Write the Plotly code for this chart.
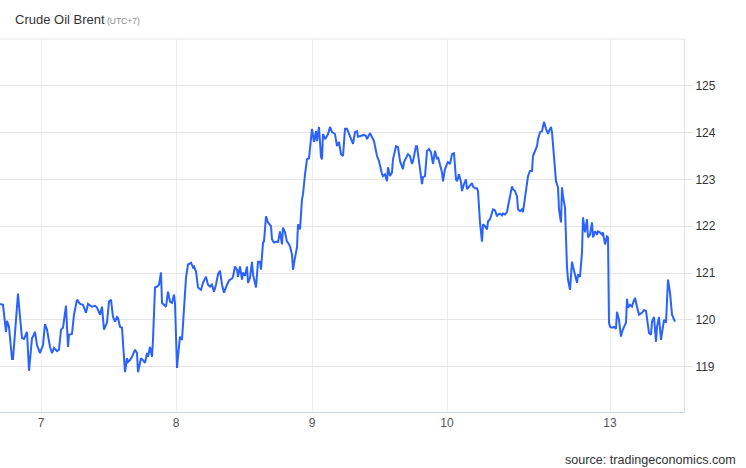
import plotly.graph_objects as go

# sequential trading-time index (session bars) and Brent price
t_idx = [0, 3, 6, 7, 9, 12, 13, 15, 18, 20, 22, 24, 27, 29, 32, 33, 35, 37, 40, 43, 45, 47, 50, 52, 54, 57, 59, 61, 63, 66, 68, 69, 72, 74, 77, 80, 83, 86, 88, 92, 95, 97, 100, 102, 104, 107, 109, 111, 113,
         115, 117, 118, 120, 122, 123, 125, 127, 128, 130, 132, 135, 137, 138, 141, 143, 145, 147, 148, 150, 152, 153, 155, 157, 159, 161, 162, 164, 166, 168, 170, 172, 174, 175, 177, 178, 180, 182, 184, 186, 188, 191, 193, 194, 196, 198, 201, 203, 206, 208, 210, 212, 214, 216, 218, 220,
         222, 224, 227, 229, 232, 233, 235, 237, 238, 240, 242, 243, 245, 247, 248, 250, 252, 253, 256, 258, 260, 261, 263, 264, 266, 268, 271, 272, 274, 277, 278, 280, 282, 283, 285, 287, 288, 290, 292, 293, 295, 297, 298, 300, 302, 303, 305, 307, 309, 311, 312, 314, 316, 317, 319, 321, 322, 323, 325, 327, 328, 330, 332, 335,
         337, 339, 341, 343, 345, 347, 350, 353, 355, 357, 358, 362, 364, 366, 367, 370, 372, 374, 377, 379, 382, 383, 385, 387, 388, 390, 392, 393, 396, 398, 400, 403, 404, 407, 408, 410, 412, 413, 416, 417, 419, 422, 423, 425, 427, 429, 431, 433, 435, 437, 438, 440, 442, 443, 445, 447, 448, 450,
         452, 454, 456, 457, 459, 461, 462, 464, 466, 467, 469, 472, 473, 475, 477, 478, 480, 482, 483, 485, 487, 488, 490, 492, 493, 495, 497, 498, 500, 502, 503, 505, 507, 508, 510, 512, 513, 515, 517, 518, 520, 522, 523, 525, 527, 528, 530, 532, 533, 535, 537, 538, 540, 542, 543, 544, 546, 548, 549, 551, 552, 554, 556, 558, 559, 561, 562, 563, 565, 567, 568, 570, 572, 573, 575, 577, 578, 580, 582, 583, 585, 587, 588, 590, 592, 593, 595, 597, 598, 600, 602, 603, 605, 607, 608,
         609, 610, 612, 614, 616, 617, 619, 621, 622, 624, 626, 627, 628, 630, 632, 633, 635, 637, 639, 642, 644, 646, 647, 649, 651, 652, 654, 656, 657, 659, 661, 662, 664, 666, 667, 668, 670, 672, 673, 675]

price = [120.34, 120.32, 119.74, 119.98, 119.85, 119.16, 119.16, 119.72, 120.56, 120.06, 119.61, 119.59, 119.74, 118.91, 119.61, 119.64, 119.74, 119.46, 119.29, 119.46, 119.91, 119.79, 119.42, 119.29, 119.40, 119.33, 119.36, 119.79, 119.83, 120.30, 119.42, 119.68, 119.70, 120.11, 120.43, 120.34, 120.32, 120.15, 120.34, 120.28, 120.30, 120.26, 120.11, 120.28, 119.79, 119.94, 120.39, 120.43, 120.06,
         119.96, 120.06, 120.04, 119.85, 119.83, 119.51, 118.88, 119.18, 119.10, 119.14, 119.21, 119.36, 119.29, 118.88, 119.18, 119.14, 119.08, 119.29, 119.21, 119.42, 119.21, 119.57, 120.69, 120.71, 120.75, 121.01, 120.36, 120.32, 120.28, 120.60, 120.39, 120.36, 120.54, 120.36, 118.97, 119.21, 119.64, 119.57, 120.21, 120.90, 121.18, 121.22, 121.12, 121.14, 121.03, 120.69, 120.64, 120.79, 120.92, 120.75, 120.71, 120.75, 120.60, 120.75, 120.97, 121.05,
         120.75, 120.58, 120.75, 120.84, 120.88, 120.92, 121.14, 121.07, 120.92, 121.14, 120.86, 121.01, 120.94, 121.14, 120.79, 120.90, 121.24, 120.97, 120.69, 121.24, 121.24, 121.07, 121.65, 121.67, 122.21, 122.08, 122.00, 121.72, 121.65, 121.67, 121.65, 121.89, 121.61, 121.97, 121.87, 121.67, 121.65, 121.57, 121.39, 121.07, 121.33, 121.55, 122.04, 121.93, 122.58, 122.68, 123.11, 123.43, 123.45, 123.97, 124.08, 123.80, 124.03, 123.82, 124.12, 123.48, 123.43, 123.97, 123.86, 123.93, 123.97, 124.12, 124.01, 123.97,
         123.71, 123.80, 123.54, 123.50, 124.08, 124.08, 123.93, 123.76, 124.01, 124.03, 123.91, 123.93, 123.95, 123.93, 123.86, 123.99, 123.91, 123.82, 123.50, 123.39, 123.11, 123.07, 123.11, 122.96, 123.26, 123.07, 123.15, 123.43, 123.71, 123.69, 123.39, 123.22, 123.37, 123.50, 123.54, 123.50, 123.33, 123.39, 123.71, 123.71, 123.33, 122.90, 123.05, 123.07, 123.61, 123.65, 123.58, 123.33, 123.61, 123.43, 123.48, 123.33, 123.15, 122.96, 123.22, 123.33, 123.37, 123.33,
         123.54, 123.56, 123.00, 122.96, 123.11, 122.94, 122.75, 122.90, 123.00, 122.79, 122.85, 122.92, 122.85, 122.81, 122.81, 122.75, 122.08, 121.67, 122.04, 122.00, 121.93, 122.10, 122.15, 122.32, 122.36, 122.34, 122.21, 122.25, 122.27, 122.23, 122.27, 122.25, 122.30, 122.42, 122.62, 122.85, 122.79, 122.75, 122.64, 122.36, 122.32, 122.36, 122.30, 122.64, 122.96, 123.07, 123.18, 123.18, 123.50, 123.61, 123.71, 123.86, 124.01, 124.03, 124.12, 124.23, 124.08, 123.97, 124.03, 124.12, 124.01, 123.43, 122.96, 122.83, 122.36, 122.08, 122.83, 122.64, 122.40, 121.12, 120.86, 120.64, 121.24, 121.14, 120.97, 120.79, 120.97, 120.92, 121.44, 122.19, 121.87, 122.15, 121.76, 121.82, 122.08, 121.76, 121.89, 121.82, 121.89, 121.87, 121.82, 121.87, 121.61, 121.78, 121.76,
         119.94, 119.85, 119.83, 119.85, 119.81, 120.17, 120.00, 119.64, 119.74, 119.85, 119.94, 120.45, 120.26, 120.32, 120.28, 120.36, 120.47, 120.28, 120.11, 120.15, 120.21, 120.19, 120.00, 119.72, 119.68, 119.96, 120.06, 119.53, 119.85, 120.06, 119.57, 119.72, 120.00, 119.94, 120.32, 120.86, 120.58, 120.11, 120.06, 119.96]

day_tick_pos = [41, 176, 312, 447, 610]
day_tick_labels = ["7", "8", "9", "10", "13"]
price_ticks = [119, 120, 121, 122, 123, 124, 125]

FONT = "Liberation Sans, Arial, sans-serif"

fig = go.Figure()
fig.add_trace(go.Scatter(
    x=t_idx, y=price, mode="lines",
    line=dict(color="#2962ff", width=2),
    hoverinfo="skip", showlegend=False,
))

fig.update_layout(
    width=746, height=468, autosize=False,
    margin=dict(l=0, r=62, t=39, b=56),
    paper_bgcolor="white", plot_bgcolor="white",
    font=dict(family=FONT, size=12, color="#333333"),
    xaxis=dict(
        range=[0, 684], tickmode="array", tickvals=day_tick_pos, ticktext=day_tick_labels,
        showgrid=True, gridcolor="#eaeef5", gridwidth=1,
        showline=True, linecolor="#ccd6eb", linewidth=1,
        ticks="", zeroline=False, fixedrange=True,
        tickfont=dict(family=FONT, size=12, color="#555555"),
    ),
    yaxis=dict(
        side="right", range=[118.03, 126.0], tickmode="array", tickvals=price_ticks,
        showgrid=True, gridcolor="#e6e6e6", gridwidth=1,
        showline=True, linecolor="#e3e3e3", linewidth=1,
        ticks="outside", ticklen=8, tickcolor="#e0e0e0", tickwidth=1,
        zeroline=False, fixedrange=True,
        tickfont=dict(family=FONT, size=12, color="#333333"),
    ),
    shapes=[dict(type="line", xref="paper", yref="paper", x0=0, x1=1, y0=1, y1=1,
                 line=dict(color="#e6e6e6", width=1))],
    annotations=[
        dict(xref="paper", yref="paper", x=13 / 684, y=1 + 19 / 373, xanchor="left", yanchor="middle",
             showarrow=False,
             text="Crude Oil Brent<span style='font-size:8.5px;color:#8a8a8a'> (UTC+7)</span>",
             font=dict(family=FONT, size=13, color="#333333")),
        dict(xref="paper", yref="paper", x=738 / 684, y=-48 / 373, xanchor="right", yanchor="middle",
             showarrow=False, text="source: tradingeconomics.com",
             font=dict(family=FONT, size=12.6, color="#333333")),
    ],
)

fig.write_html("out.html", config={"displayModeBar": False},
               post_script="document.body.style.margin='0';document.body.style.overflow='hidden';")
